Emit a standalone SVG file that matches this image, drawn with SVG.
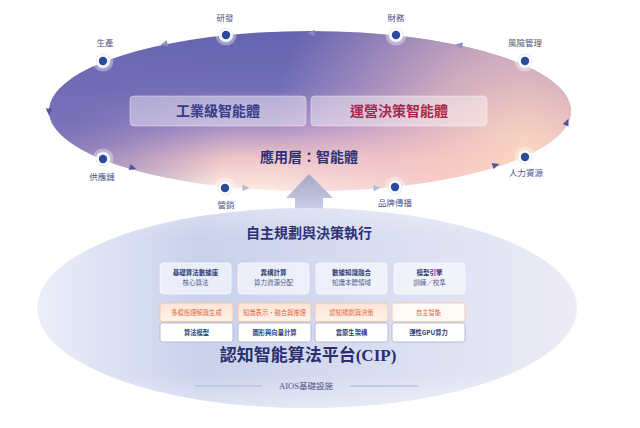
<svg xmlns="http://www.w3.org/2000/svg" xmlns:xlink="http://www.w3.org/1999/xlink" width="640" height="428" viewBox="0 0 640 428">
  <defs>
    <linearGradient id="topBase" x1="0" y1="0" x2="0" y2="1">
      <stop offset="0" stop-color="#6464ae"/>
      <stop offset="0.35" stop-color="#716db7"/>
      <stop offset="0.58" stop-color="#a38cc4"/>
      <stop offset="0.8" stop-color="#f0c6c8"/>
      <stop offset="1" stop-color="#fdebe2"/>
    </linearGradient>
    <radialGradient id="peach" cx="525" cy="150" r="255" gradientUnits="userSpaceOnUse">
      <stop offset="0" stop-color="#fcd6c0" stop-opacity="0.97"/>
      <stop offset="0.4" stop-color="#f5c4c2" stop-opacity="0.7"/>
      <stop offset="1" stop-color="#e6b6d2" stop-opacity="0"/>
    </radialGradient>
    <radialGradient id="leftPurple" cx="70" cy="120" r="160" gradientUnits="userSpaceOnUse">
      <stop offset="0" stop-color="#706bb6" stop-opacity="0.85"/>
      <stop offset="1" stop-color="#706bb6" stop-opacity="0"/>
    </radialGradient>
    <linearGradient id="botBase" x1="0" y1="0" x2="1" y2="0">
      <stop offset="0" stop-color="#eceff9"/>
      <stop offset="0.3" stop-color="#c9d1ec"/>
      <stop offset="0.45" stop-color="#d0d6ee"/>
      <stop offset="0.7" stop-color="#dde0f2"/>
      <stop offset="1" stop-color="#ecebf6"/>
    </linearGradient>
    <linearGradient id="botShade" x1="0" y1="0" x2="0" y2="1">
      <stop offset="0" stop-color="#ffffff" stop-opacity="0.3"/>
      <stop offset="0.15" stop-color="#ffffff" stop-opacity="0"/>
      <stop offset="0.82" stop-color="#ffffff" stop-opacity="0"/>
      <stop offset="1" stop-color="#ffffff" stop-opacity="0.4"/>
    </linearGradient>
    <linearGradient id="upArrow" x1="0" y1="0" x2="0" y2="1">
      <stop offset="0" stop-color="#a7a7c4"/>
      <stop offset="1" stop-color="#cfd5ec"/>
    </linearGradient>
    <linearGradient id="orangeBox" x1="0" y1="0" x2="0" y2="1">
      <stop offset="0" stop-color="#fde3d4"/>
      <stop offset="1" stop-color="#fff3ec"/>
    </linearGradient>
    <path id="tri" d="M-3.5,-3.2 L3.5,0 L-3.5,3.2 Z"/>
    <style>
      .cjk { font-family: "Noto Sans CJK TC", "Noto Sans", sans-serif; }
      .serif { font-family: "Liberation Serif", "Noto Sans CJK TC", serif; }
      .nodeLbl { font-size: 8.5px; fill: #4d5487; text-anchor: middle; }
      .halo { fill: #ffffff; fill-opacity: 0.35; }
      .ring { fill: #ffffff; fill-opacity: 0.9; stroke: #e3e5f2; stroke-width: 0.8; }
      .dot { fill: #2c4a9c; }
      .agent { fill: #ffffff; fill-opacity: 0.42; stroke: #ffffff; stroke-opacity: 0.5; stroke-width: 0.8; }
      .agentTxt { font-size: 14px; font-weight: 700; text-anchor: middle; }
      .title { font-size: 14px; font-weight: 700; fill: #2c3275; text-anchor: middle; }
      .card { fill: #ffffff; fill-opacity: 0.6; stroke: #ffffff; stroke-opacity: 0.8; stroke-width: 0.8; }
      .cardT1 { font-size: 6.5px; font-weight: 700; fill: #2f3a7a; text-anchor: middle; }
      .cardT2 { font-size: 6.5px; fill: #535b8c; text-anchor: middle; }
      .oBox { fill: url(#orangeBox); stroke: #f4c3a7; stroke-width: 0.9; }
      .oTxt { font-size: 6.3px; fill: #e2673e; text-anchor: middle; }
      .wBox { fill: #ffffff; stroke: #adb4d5; stroke-width: 0.9; }
      .wTxt { font-size: 6.3px; font-weight: 700; fill: #2e3a7a; text-anchor: middle; }
    </style>
  </defs>

  <rect width="640" height="428" fill="#ffffff"/>

  <!-- Top ellipse: application layer -->
  <g id="app-layer">
    <ellipse cx="310" cy="111" rx="261" ry="80" fill="url(#topBase)"/>
    <ellipse cx="310" cy="111" rx="261" ry="80" fill="url(#leftPurple)"/>
    <ellipse cx="310" cy="111" rx="261" ry="80" fill="url(#peach)"/>
  </g>

  <!-- Connectors -->
  <g id="connectors">
    <use xlink:href="#tri" href="#tri" transform="translate(164,44) rotate(168)" fill="#8d8cc4"/>
    <use xlink:href="#tri" href="#tri" transform="translate(311,33) rotate(180)" fill="#8d8cc4"/>
    <use xlink:href="#tri" href="#tri" transform="translate(459,45) rotate(192)" fill="#8d8cc4"/>
    <use xlink:href="#tri" href="#tri" transform="translate(567,122) rotate(-66)" fill="#4f55a0"/>
    <use xlink:href="#tri" href="#tri" transform="translate(496,165) rotate(-18)" fill="#4f55a0"/>
    <use xlink:href="#tri" href="#tri" transform="translate(377,188) rotate(-5)" fill="#b6bbd9"/>
    <use xlink:href="#tri" href="#tri" transform="translate(246,188) rotate(4)" fill="#b6bbd9"/>
    <use xlink:href="#tri" href="#tri" transform="translate(133,168) rotate(16)" fill="#4f55a0"/>
    <use xlink:href="#tri" href="#tri" transform="translate(49,112) rotate(90)" fill="#4f55a0"/>
    <polygon id="up-arrow" points="286,198 309,174 333,198 323,198 323,214 295,214 295,198" fill="url(#upArrow)"/>
  </g>

  <!-- Agent boxes -->
  <g id="agent-industrial">
    <rect class="agent" x="130" y="96" width="176" height="30" rx="4"/>
    <text class="cjk agentTxt" x="218" y="116" fill="#363c86">工業級智能體</text>
  </g>
  <g id="agent-operations">
    <rect class="agent" x="311" y="96" width="176" height="30" rx="4"/>
    <text class="cjk agentTxt" x="399" y="116" fill="#a8284a">運營決策智能體</text>
  </g>
  <g id="app-title">
    <text class="cjk title" x="309" y="162">應用層：智能體</text>
  </g>

  <!-- Cycle nodes -->
  <g id="node-rd">
    <circle class="halo" cx="226" cy="35" r="10.5"/>
    <circle class="ring" cx="226" cy="35" r="7"/>
    <circle class="dot" cx="226" cy="35" r="4.2"/>
    <text class="cjk nodeLbl" x="225" y="21">研發</text>
  </g>
  <g id="node-finance">
    <circle class="halo" cx="396" cy="35" r="10.5"/>
    <circle class="ring" cx="396" cy="35" r="7"/>
    <circle class="dot" cx="396" cy="35" r="4.2"/>
    <text class="cjk nodeLbl" x="396" y="21">財務</text>
  </g>
  <g id="node-production">
    <circle class="halo" cx="103" cy="61" r="10.5"/>
    <circle class="ring" cx="103" cy="61" r="7"/>
    <circle class="dot" cx="103" cy="61" r="4.2"/>
    <text class="cjk nodeLbl" x="105" y="46">生產</text>
  </g>
  <g id="node-risk">
    <circle class="halo" cx="525" cy="61" r="10.5"/>
    <circle class="ring" cx="525" cy="61" r="7"/>
    <circle class="dot" cx="525" cy="61" r="4.2"/>
    <text class="cjk nodeLbl" x="525" y="46">風險管理</text>
  </g>
  <g id="node-supply">
    <circle class="halo" cx="103" cy="159" r="10.5"/>
    <circle class="ring" cx="103" cy="159" r="7"/>
    <circle class="dot" cx="103" cy="159" r="4.2"/>
    <text class="cjk nodeLbl" x="102" y="180">供應鏈</text>
  </g>
  <g id="node-hr">
    <circle class="halo" cx="525" cy="157" r="10.5"/>
    <circle class="ring" cx="525" cy="157" r="7"/>
    <circle class="dot" cx="525" cy="157" r="4.2"/>
    <text class="cjk nodeLbl" x="526" y="176">人力資源</text>
  </g>
  <g id="node-marketing">
    <circle class="halo" cx="225" cy="188" r="10.5"/>
    <circle class="ring" cx="225" cy="188" r="7"/>
    <circle class="dot" cx="225" cy="188" r="4.2"/>
    <text class="cjk nodeLbl" x="226" y="208">營銷</text>
  </g>
  <g id="node-brand">
    <circle class="halo" cx="395" cy="187" r="10.5"/>
    <circle class="ring" cx="395" cy="187" r="7"/>
    <circle class="dot" cx="395" cy="187" r="4.2"/>
    <text class="cjk nodeLbl" x="395" y="206">品牌傳播</text>
  </g>

  <!-- Bottom ellipse: CIP platform -->
  <g id="cip-platform">
    <ellipse cx="307" cy="308" rx="270" ry="100" fill="url(#botBase)"/>
    <ellipse cx="307" cy="308" rx="270" ry="100" fill="url(#botShade)"/>
    <text class="cjk title" x="309" y="238">自主規劃與決策執行</text>
    <text class="serif" x="308" y="361" font-size="17" font-weight="700" fill="#2a2f6e" text-anchor="middle">認知智能算法平台(CIP)</text>
    <line x1="195" y1="386" x2="262" y2="386" stroke="#a3a9cc" stroke-width="0.8"/>
    <line x1="350" y1="386" x2="418" y2="386" stroke="#a3a9cc" stroke-width="0.8"/>
    <text class="serif" x="306" y="389" font-size="8.5" fill="#4a4f80" text-anchor="middle">AIOS基礎設施</text>
  </g>

  <!-- Row 1 cards -->
  <g id="card-algo-db">
    <rect class="card" x="160" y="263" width="71" height="31" rx="4"/>
    <text class="cjk cardT1" x="195.5" y="275">基礎算法數據庫</text>
    <text class="cjk cardT2" x="195.5" y="285">核心算法</text>
  </g>
  <g id="card-hetero">
    <rect class="card" x="238" y="263" width="71" height="31" rx="4"/>
    <text class="cjk cardT1" x="273.5" y="275">異構計算</text>
    <text class="cjk cardT2" x="273.5" y="285">算力資源分配</text>
  </g>
  <g id="card-fusion">
    <rect class="card" x="316" y="263" width="71" height="31" rx="4"/>
    <text class="cjk cardT1" x="351.5" y="275">數據知識融合</text>
    <text class="cjk cardT2" x="351.5" y="285">知識本體領域</text>
  </g>
  <g id="card-engine">
    <rect class="card" x="394" y="263" width="71" height="31" rx="4"/>
    <text class="cjk cardT1" x="429.5" y="275">模型引擎</text>
    <text class="cjk cardT2" x="429.5" y="285">訓練／校準</text>
  </g>

  <!-- Row 2 orange boxes -->
  <g id="box-multimodal">
    <rect class="oBox" x="160" y="303" width="73" height="18.5" rx="2.5"/>
    <text class="cjk oTxt" x="196.5" y="314.5">多模態理解與生成</text>
  </g>
  <g id="box-knowledge">
    <rect class="oBox" x="238" y="303" width="73" height="18.5" rx="2.5"/>
    <text class="cjk oTxt" x="274.5" y="314.5">知識表示・融合與推理</text>
  </g>
  <g id="box-planning">
    <rect class="oBox" x="315" y="303" width="73" height="18.5" rx="2.5"/>
    <text class="cjk oTxt" x="351.5" y="314.5">認知規劃與決策</text>
  </g>
  <g id="box-autonomous">
    <rect x="392" y="303" width="73" height="18.5" rx="2.5" fill="#fffaf6" stroke="#f4c9b2" stroke-width="0.9"/>
    <text class="cjk oTxt" x="428.5" y="314.5">自主智能</text>
  </g>

  <!-- Row 3 white boxes -->
  <g id="box-model">
    <rect class="wBox" x="160" y="323" width="73" height="19" rx="2.5"/>
    <text class="cjk wTxt" x="196.5" y="334.8">算法模型</text>
  </g>
  <g id="box-graph">
    <rect class="wBox" x="238" y="323" width="73" height="19" rx="2.5" fill="#f0f2fa"/>
    <text class="cjk wTxt" x="274.5" y="334.8">圖形與向量計算</text>
  </g>
  <g id="box-cloud">
    <rect class="wBox" x="315" y="323" width="73" height="19" rx="2.5"/>
    <text class="cjk wTxt" x="351.5" y="334.8">雲原生架構</text>
  </g>
  <g id="box-gpu">
    <rect class="wBox" x="392" y="323" width="73" height="19" rx="2.5" fill="#f4f5fb"/>
    <text class="cjk wTxt" x="428.5" y="334.8">彈性GPU算力</text>
  </g>
</svg>
